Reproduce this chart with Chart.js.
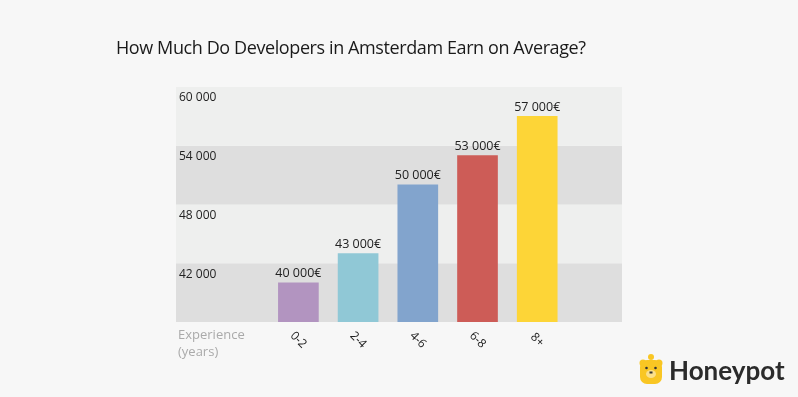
<!DOCTYPE html>
<html>
<head>
<meta charset="utf-8">
<script src="https://cdn.jsdelivr.net/npm/chart.js@4"></script>
<style>
  html, body { margin: 0; padding: 0; background: #f7f7f7; }
  #wrap { width: 798px; height: 397px; position: relative; }
</style>
</head>
<body>
<div id="wrap"><canvas id="chart"></canvas></div>
<script>
const TITLE = 'How Much Do Developers in Amsterdam Earn on Average?';
const categories = ['0-2', '2-4', '4-6', '6-8', '8+'];
const salaries = [40000, 43000, 50000, 53000, 57000];
const valueLabels = ['40 000€', '43 000€', '50 000€', '53 000€', '57 000€'];
const barColors = ['#b294c0', '#90c8d6', '#82a4cd', '#cd5c57', '#fdd537'];
const yTicks = [42000, 48000, 54000, 60000];
const axisLabel = ['Experience', '(years)'];

const BAND_LIGHT = '#eeefee';
const BAND_DARK = '#dedede';

function fmt(v) {
  return String(v).replace(/\B(?=(\d{3})+(?!\d))/g, ' ');
}

// alternating horizontal bands behind everything
const bands = {
  id: 'bands',
  beforeDraw(chart) {
    const {ctx, chartArea, scales: {y}} = chart;
    ctx.save();
    let dark = true;
    for (let v = y.min; v < y.max; v += 6000) {
      const top = y.getPixelForValue(v + 6000);
      const bot = y.getPixelForValue(v);
      ctx.fillStyle = dark ? BAND_DARK : BAND_LIGHT;
      ctx.fillRect(chartArea.left, top, chartArea.right - chartArea.left, bot - top);
      dark = !dark;
    }
    ctx.restore();
  }
};

// title, value labels, rotated category labels, logo
const extras = {
  id: 'extras',
  afterDraw(chart) {
    const {ctx, chartArea, scales: {x}} = chart;
    const meta = chart.getDatasetMeta(0);
    ctx.save();

    ctx.fillStyle = '#1a1a1a';
    ctx.font = '18px "Open Sans"';
    ctx.letterSpacing = '-0.4px';
    ctx.textAlign = 'left';
    ctx.textBaseline = 'middle';
    ctx.fillText(TITLE, 116, 49);
    ctx.letterSpacing = '0px';

    ctx.font = '12.5px "Open Sans"';
    ctx.fillStyle = '#222';
    ctx.textAlign = 'center';
    ctx.textBaseline = 'bottom';
    meta.data.forEach((bar, i) => {
      ctx.fillText(valueLabels[i], bar.x, bar.y - 3);
    });

    ctx.font = '13px "Open Sans"';
    ctx.fillStyle = '#aaaaaa';
    ctx.textAlign = 'left';
    ctx.textBaseline = 'middle';
    ctx.fillText(axisLabel[0], chartArea.left + 2, chartArea.bottom + 13);
    ctx.fillText(axisLabel[1], chartArea.left + 2, chartArea.bottom + 30);

    ctx.fillStyle = '#222';
    ctx.font = '12px "Open Sans"';
    ctx.textAlign = 'center';
    categories.forEach((c, i) => {
      ctx.save();
      ctx.translate(x.getPixelForValue(i), chartArea.bottom + 18);
      ctx.rotate(Math.PI / 4);
      ctx.fillText(c, 0, 0);
      ctx.restore();
    });

    // logo
    ctx.fillStyle = '#f9c623';
    ctx.beginPath();
    ctx.arc(651, 357, 3, 0, Math.PI * 2);
    ctx.fill();
    ctx.beginPath();
    ctx.arc(643, 363, 3.5, 0, Math.PI * 2);
    ctx.arc(659, 363, 3.5, 0, Math.PI * 2);
    ctx.fill();
    ctx.beginPath();
    ctx.roundRect(640, 360, 22, 24, 7);
    ctx.fill();
    ctx.fillStyle = '#fbe08a';
    ctx.beginPath();
    ctx.ellipse(651, 374, 5, 4, 0, 0, Math.PI * 2);
    ctx.fill();
    ctx.fillStyle = '#333';
    ctx.beginPath();
    ctx.arc(646.5, 368, 1.3, 0, Math.PI * 2);
    ctx.arc(655.5, 368, 1.3, 0, Math.PI * 2);
    ctx.fill();
    ctx.fillRect(649.5, 371.5, 3, 2);

    ctx.fillStyle = '#2b2b2b';
    ctx.font = 'bold 26px Lato';
    ctx.textAlign = 'left';
    ctx.textBaseline = 'middle';
    ctx.fillText('Honeypot', 669, 372);

    ctx.restore();
  }
};

new Chart(document.getElementById('chart'), {
  type: 'bar',
  data: {
    datasets: [{
      data: salaries.map((v, i) => ({x: i, y: v})),
      backgroundColor: barColors,
      borderWidth: 0,
      barThickness: 40
    }]
  },
  options: {
    responsive: true,
    maintainAspectRatio: false,
    animation: false,
    events: [],
    layout: {
      padding: {left: 176, right: 176, top: 87, bottom: 75}
    },
    plugins: {
      legend: {display: false},
      tooltip: {enabled: false},
      title: {display: false}
    },
    scales: {
      x: {
        type: 'linear',
        display: false,
        offset: false,
        min: -2.05,
        max: 5.42
      },
      y: {
        min: 36000,
        max: 60000,
        afterBuildTicks: axis => { axis.ticks = [36000].concat(yTicks).map(v => ({value: v})); },
        afterFit: axis => { axis.width = 0; },
        grid: {display: false, drawTicks: false},
        border: {display: false},
        ticks: {
          mirror: true,
          padding: 3,
          labelOffset: 11,
          color: '#222',
          font: {family: 'Open Sans', size: 12},
          callback: v => (yTicks.includes(v) ? fmt(v) : '')
        }
      }
    }
  },
  plugins: [bands, extras]
});
</script>
</body>
</html>
